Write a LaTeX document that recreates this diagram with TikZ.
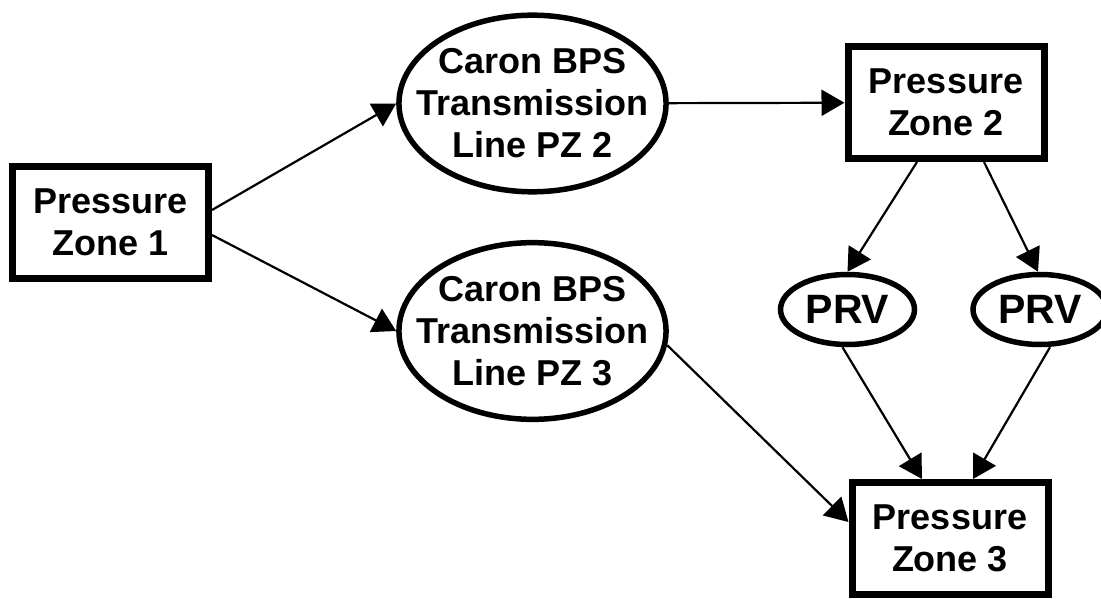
\documentclass[tikz,border=0pt]{standalone}
\usepackage{fontspec}
\setmainfont{Liberation Sans}
\usetikzlibrary{arrows.meta,shapes.geometric}
\tikzset{
  zone/.style={draw,line width=7pt,minimum width=196pt,minimum height=112pt,
    inner sep=0pt,align=center},
  trans/.style={draw,ellipse,line width=5.5pt,inner xsep=-21.6pt,inner ysep=7.7pt,
    align=center},
  prv/.style={draw,ellipse,line width=5.5pt,minimum width=134pt,minimum height=70pt,
    inner sep=0pt,font=\fontsize{41}{48}\selectfont\bfseries},
  flow/.style={-{Triangle[length=23pt,width=26pt]},line width=2.2pt}
}

\begin{document}
\begin{tikzpicture}[x=1pt,y=1pt,font=\fontsize{36}{42}\selectfont\bfseries]
\useasboundingbox (0,0) rectangle (1101,-599);
% zones and lines
\node[zone] (pz1) at (110.5,-222.5) {Pressure\\Zone 1};
\node[trans] (tl2) at (532.5,-103.5) {Caron BPS\\Transmission\\Line PZ 2};
\node[trans] (tl3) at (532.5,-331) {Caron BPS\\Transmission\\Line PZ 3};
\node[zone] (pz2) at (946,-102.5) {Pressure\\Zone 2};
\node[prv] (prv1) at (847.5,-309.5) {PRV};
\node[prv] (prv2) at (1040,-309.5) {PRV};
\node[zone] (pz3) at (950,-538.5) {Pressure\\Zone 3};
% flows
\draw[flow] ([yshift=12.5pt]pz1.east) -- (tl2.west);
\draw[flow] ([yshift=-12.5pt]pz1.east) -- (tl3.west);
\draw[flow] (tl2) -- (pz2);
\draw[flow] ([xshift=-29pt]pz2.south) -- (prv1.north);
\draw[flow] ([xshift=38pt]pz2.south) -- ([xshift=-2pt]prv2.north);
\draw[flow] ([xshift=-5pt]prv1.south) -- ([xshift=-28pt]pz3.north);
\draw[flow] ([xshift=10pt]prv2.south) -- ([xshift=23pt]pz3.north);
\draw[flow] (tl3.-6) -- ([yshift=16.5pt]pz3.west);
\end{tikzpicture}
\end{document}
